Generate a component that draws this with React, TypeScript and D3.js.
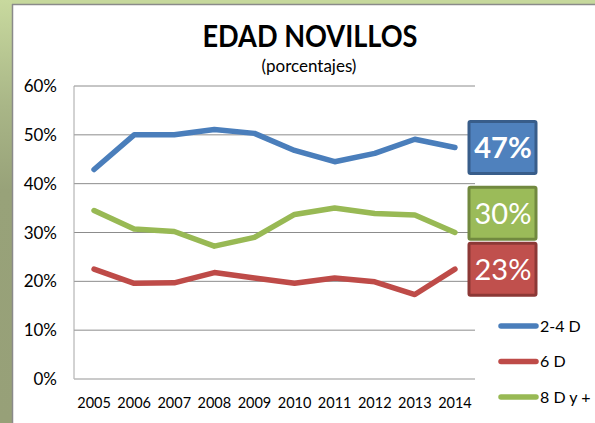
import React from 'react';
import * as d3 from 'd3';

const years = ['2005', '2006', '2007', '2008', '2009', '2010', '2011', '2012', '2013', '2014'];
const serieNames = ['2-4 D', '6 D', '8 D y +'];
const blueVals = [42.9, 50.0, 50.0, 51.1, 50.3, 46.8, 44.5, 46.2, 49.1, 47.4];
const redVals = [22.5, 19.6, 19.7, 21.8, 20.7, 19.6, 20.7, 19.9, 17.3, 22.5];
const greenVals = [34.5, 30.7, 30.2, 27.2, 29.0, 33.7, 35.0, 33.9, 33.6, 30.0];
const badgeLabels = ['47%', '23%', '30%'];
const yTicks = [0, 10, 20, 30, 40, 50, 60];

const lineColors = ['#4A7EBB', '#BE4B48', '#98B954'];
const badgeFill = ['#4F81BD', '#C0504D', '#9BBB59'];
const badgeStroke = ['#385D8A', '#8C3836', '#71893F'];
const FONT = 'Lato, "Liberation Sans", sans-serif';

const App = () => {
  const series = [blueVals, redVals, greenVals];
  const margin = { left: 74, right: 475, top: 86, bottom: 379 };

  const x = d3.scaleBand().domain(years).range([margin.left, margin.right]).padding(0);
  const y = d3.scaleLinear().domain([0, 60]).range([margin.bottom, margin.top]);
  const cx = (d: string) => (x(d) as number) + x.bandwidth() / 2;

  const line = d3
    .line<number>()
    .x((_, i) => cx(years[i]))
    .y(d => y(d));

  // badges sit at the last value, pushed up when they overlap
  const badgeH = 52;
  const order = series
    .map((s, i) => ({ i, cy: y(s[s.length - 1]) }))
    .sort((a, b) => b.cy - a.cy);
  for (let k = 1; k < order.length; k++) {
    const lim = order[k - 1].cy - badgeH - 4;
    if (order[k].cy > lim) order[k].cy = lim;
  }
  const badgeY: number[] = [];
  order.forEach(o => (badgeY[o.i] = o.cy));

  return (
    <svg width={595} height={423} style={{ position: 'absolute', left: 0, top: 0 }}>
      <defs>
        <linearGradient id="side" x1="0" y1="0" x2="0" y2="1">
          <stop offset="0" stopColor="#c8d99e" />
          <stop offset="0.25" stopColor="#a9b687" />
          <stop offset="0.45" stopColor="#98a279" />
          <stop offset="1" stopColor="#97a078" />
        </linearGradient>
      </defs>
      <rect x={0} y={0} width={595} height={423} fill="#fff" />
      <rect x={0} y={0} width={595} height={4} fill="#c6d89c" />
      <rect x={0} y={0} width={12} height={423} fill="url(#side)" />
      <line x1={12} x2={595} y1={4.5} y2={4.5} stroke="#8a8a8a" strokeWidth={1.5} />
      <line x1={12.5} x2={12.5} y1={4} y2={423} stroke="#8a8a8a" strokeWidth={1.5} />

      <text
        x={310}
        y={47}
        textAnchor="middle"
        fontFamily={FONT}
        fontWeight="bold"
        fontSize={30}
        textLength={215}
        lengthAdjust="spacingAndGlyphs"
      >
        EDAD NOVILLOS
      </text>
      <text x={309} y={72} textAnchor="middle" fontFamily={FONT} fontSize={17}>
        (porcentajes)
      </text>

      {yTicks.map(t => (
        <g key={t}>
          {t > 0 && (
            <line x1={margin.left} x2={margin.right} y1={y(t)} y2={y(t)} stroke="#8c8c8c" strokeWidth={1} />
          )}
          <text x={57} y={y(t)} dy="0.36em" textAnchor="end" fontFamily={FONT} fontSize={17}>
            {t + '%'}
          </text>
        </g>
      ))}
      <line x1={margin.left} x2={margin.left} y1={margin.top} y2={margin.bottom} stroke="#a6a6a6" />
      <line x1={margin.left} x2={margin.right} y1={margin.bottom} y2={margin.bottom} stroke="#b8b8b8" strokeWidth={1.5} />

      {years.map(d => (
        <text key={d} x={cx(d)} y={408} textAnchor="middle" fontFamily={FONT} fontSize={14.5}>
          {d}
        </text>
      ))}

      {series.map((s, i) => (
        <path
          key={i}
          d={line(s) || ''}
          fill="none"
          stroke={lineColors[i]}
          strokeWidth={5.5}
          strokeLinejoin="round"
          strokeLinecap="round"
        />
      ))}

      {series.map((s, i) => (
        <g key={i} transform={`translate(469,${badgeY[i] - badgeH / 2})`}>
          <rect x={0} y={0} width={67} height={badgeH} fill={badgeFill[i]} stroke={badgeStroke[i]} strokeWidth={3} rx={1.5} />
          <text
            x={34}
            y={badgeH / 2}
            dy="0.36em"
            textAnchor="middle"
            fill="#fff"
            fontFamily={FONT}
            fontWeight={i === 0 ? 'bold' : 'normal'}
            fontSize={29}
          >
            {badgeLabels[i]}
          </text>
        </g>
      ))}

      {serieNames.map((n, i) => {
        const ly = 326 + i * 35.5;
        return (
          <g key={n}>
            <line x1={501} x2={536} y1={ly} y2={ly} stroke={lineColors[i]} strokeWidth={5.5} strokeLinecap="round" />
            <text x={540} y={ly} dy="0.36em" fontFamily={FONT} fontSize={16}>
              {n}
            </text>
          </g>
        );
      })}
    </svg>
  );
};

export default App;
